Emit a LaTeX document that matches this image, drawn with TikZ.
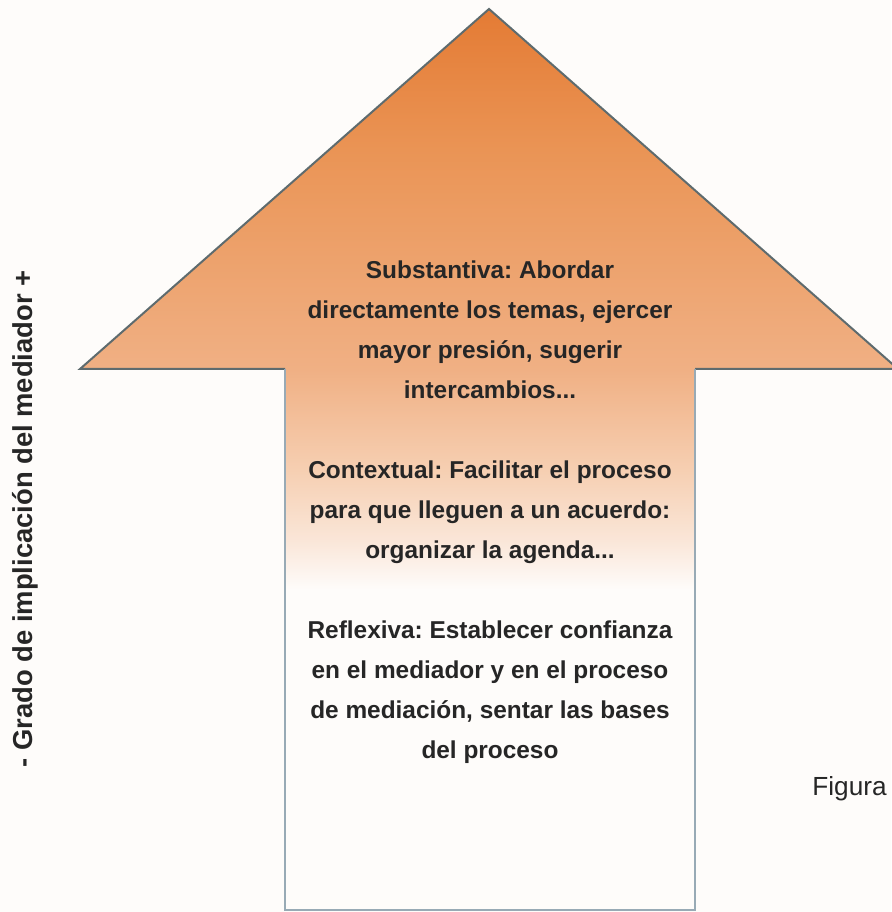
\documentclass[tikz,border=0pt]{standalone}
\usepackage{fontspec}
\setmainfont{Liberation Sans}
\usetikzlibrary{matrix}
\frenchspacing

\definecolor{naranja}{HTML}{E47B34}
\definecolor{naranjamedio}{HTML}{EA9455}
\definecolor{naranjaclaro}{HTML}{F0B084}
\definecolor{salmon}{HTML}{F6CFB2}
\definecolor{crema}{HTML}{FAE6D8}
\definecolor{blanco}{HTML}{FEFCFA}
\definecolor{borde}{HTML}{5E6B6E}
\definecolor{bordefuste}{HTML}{98AAB5}
\definecolor{texto}{HTML}{262626}

\pgfdeclareverticalshading{degradado}{100bp}{color(0bp)=(blanco); color(42.8bp)=(blanco); color(45.5bp)=(crema); color(49.4bp)=(salmon); color(55bp)=(naranjaclaro); color(67.2bp)=(naranjamedio); color(75bp)=(naranja); color(100bp)=(naranja)}

\tikzset{
  linea/.style={font=\fontsize{12.2}{14}\selectfont\bfseries, text=texto, text height=14pt, text depth=6pt, inner sep=0pt},
}

\begin{document}
\begin{tikzpicture}[x=0.5pt,y=0.5pt]
\fill[blanco] (0,0) rectangle (891,912);
\useasboundingbox (0,0) rectangle (891,912);

\coordinate (tip) at (489,903);
\coordinate (lw) at (80,543);
\coordinate (ls) at (285,543);
\coordinate (lb) at (285,2);
\coordinate (rb) at (695,2);
\coordinate (rs) at (695,543);
\coordinate (rw) at (898,543);

\shade[shading=degradado] (lb) -- (ls) -- (lw) -- (tip) -- (rw) -- (rs) -- (rb) -- cycle;
\draw[borde, line width=1pt, line join=miter] (ls) -- (lw) -- (tip) -- (rw) -- (rs);
\draw[bordefuste, line width=1.2pt] (rs) -- (rb) -- (lb) -- (ls);

\matrix (niveles) [matrix of nodes, nodes=linea, inner sep=0pt, anchor=north] at (490,662) {
    Substantiva: Abordar \\
    directamente los temas, ejercer \\
    mayor presión, sugerir \\
    intercambios... \\[20pt]
    Contextual: Facilitar el proceso \\
    para que lleguen a un acuerdo: \\
    organizar la agenda... \\[20pt]
    Reflexiva: Establecer confianza \\
    en el mediador y en el proceso \\
    de mediación, sentar las bases \\
    del proceso \\
};

\node[rotate=90, font=\fontsize{13.7}{16}\selectfont\bfseries, text=texto] (grado) at (25,393) {- Grado de implicación del mediador +};
\node[anchor=base west, inner sep=0pt, font=\fontsize{13.1}{16}\selectfont, text=texto] (figura) at (812,116) {Figura};
\end{tikzpicture}
\end{document}
